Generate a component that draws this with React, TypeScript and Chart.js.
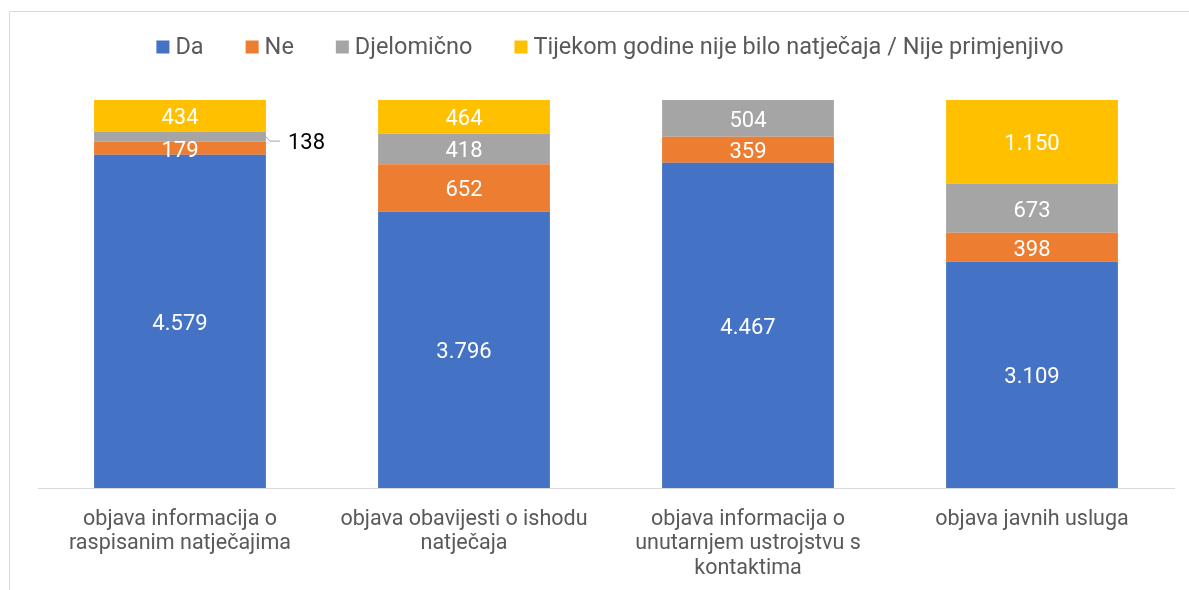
import React, { useEffect, useRef } from "react";
import { Chart, registerables } from "chart.js";

Chart.register(...registerables);

const categories: string[][] = [
  ["objava informacija o", "raspisanim natječajima"],
  ["objava obavijesti o ishodu", "natječaja"],
  ["objava informacija o", "unutarnjem ustrojstvu s", "kontaktima"],
  ["objava javnih usluga"],
];
const seriesNames = ["Da", "Ne", "Djelomično", "Tijekom godine nije bilo natječaja / Nije primjenjivo"];
const daValues = [4579, 3796, 4467, 3109];
const neValues = [179, 652, 359, 398];
const djelomicnoValues = [138, 418, 504, 673];
const tijekomValues = [434, 464, 0, 1150];
const colors = ["#4472C4", "#ED7D31", "#A5A5A5", "#FFC000"];

const FONT = "Roboto, 'Noto Sans', sans-serif";

function fmt(v: number): string {
  return String(v).replace(/\B(?=(\d{3})+(?!\d))/g, ".");
}

const framePlugin = {
  id: "frame",
  beforeDraw(chart: any) {
    const ctx = chart.ctx;
    ctx.save();
    ctx.strokeStyle = "#d9d9d9";
    ctx.lineWidth = 1;
    ctx.beginPath();
    ctx.moveTo(9.5, chart.height);
    ctx.lineTo(9.5, 11.5);
    ctx.lineTo(chart.width, 11.5);
    ctx.stroke();
    ctx.restore();
  },
};

const legendPlugin = {
  id: "customLegend",
  afterDraw(chart: any) {
    const ctx = chart.ctx;
    ctx.save();
    ctx.font = `23.5px ${FONT}`;
    const box = 13;
    const textGap = 6;
    const itemGap = 42;
    const ds = chart.data.datasets;
    const widths = ds.map((d: any) => box + textGap + ctx.measureText(d.label).width);
    const total = widths.reduce((a: number, b: number) => a + b, 0) + itemGap * (ds.length - 1);
    let x = 610 - total / 2;
    const y = 47;
    ds.forEach((d: any, i: number) => {
      ctx.fillStyle = d.backgroundColor;
      ctx.fillRect(x, y - box / 2, box, box);
      ctx.fillStyle = "#595959";
      ctx.textBaseline = "middle";
      ctx.textAlign = "left";
      ctx.fillText(d.label, x + box + textGap, y + 1);
      x += widths[i] + itemGap;
    });
    ctx.restore();
  },
};

const labelPlugin = {
  id: "segLabels",
  afterDatasetsDraw(chart: any) {
    const ctx = chart.ctx;
    ctx.save();
    ctx.font = `22px ${FONT}`;
    ctx.textAlign = "center";
    ctx.textBaseline = "middle";
    chart.data.datasets.forEach((d: any, di: number) => {
      const meta = chart.getDatasetMeta(di);
      meta.data.forEach((el: any, i: number) => {
        const v = d.data[i];
        if (!v) return;
        const top = Math.min(el.y, el.base);
        const bot = Math.max(el.y, el.base);
        const h = bot - top;
        const cy = (top + bot) / 2;
        if (h < 11.5) {
          const right = el.x + el.width / 2;
          ctx.strokeStyle = "#a6a6a6";
          ctx.lineWidth = 1;
          ctx.beginPath();
          ctx.moveTo(right, cy);
          ctx.lineTo(right + 4, cy + 4.5);
          ctx.lineTo(right + 14, cy + 4.5);
          ctx.stroke();
          ctx.fillStyle = "#000000";
          ctx.textAlign = "left";
          ctx.fillText(fmt(v), right + 22, cy + 7);
          ctx.textAlign = "center";
        } else {
          ctx.fillStyle = "#ffffff";
          ctx.fillText(fmt(v), el.x, cy + 3);
        }
      });
    });
    ctx.restore();
  },
};

export default function App() {
  const ref = useRef<HTMLCanvasElement>(null);
  useEffect(() => {
    if (!ref.current) return;
    const series = [daValues, neValues, djelomicnoValues, tijekomValues];
    const chart = new Chart(ref.current, {
      type: "bar",
      data: {
        labels: categories,
        datasets: series.map((vals, i) => ({
          label: seriesNames[i],
          data: vals,
          backgroundColor: colors[i],
          borderWidth: 0,
          categoryPercentage: 1,
          barPercentage: 0.605,
        })),
      },
      options: {
        animation: false,
        responsive: false,
        maintainAspectRatio: false,
        layout: { padding: { left: 38, right: 15, top: 100, bottom: 0 } },
        plugins: {
          legend: { display: false },
          tooltip: { enabled: false },
          title: { display: false },
        },
        scales: {
          x: {
            stacked: true,
            grid: { display: false, drawTicks: false },
            border: { display: true, color: "#d9d9d9", width: 1 },
            ticks: {
              color: "#595959",
              font: { family: FONT, size: 21.5, lineHeight: 1.12 },
              padding: 20,
              maxRotation: 0,
              autoSkip: false,
            },
            afterFit(scale: any) {
              scale.height = 102;
            },
          },
          y: {
            stacked: true,
            display: false,
            min: 0,
            max: 5330,
          },
        },
      },
      plugins: [framePlugin, labelPlugin, legendPlugin],
    });
    return () => chart.destroy();
  }, []);
  return (
    <div style={{ position: "fixed", left: 0, top: 0, width: 1189, height: 590, background: "#fff" }}>
      <canvas ref={ref} width={1189} height={590} style={{ display: "block" }} />
    </div>
  );
}
